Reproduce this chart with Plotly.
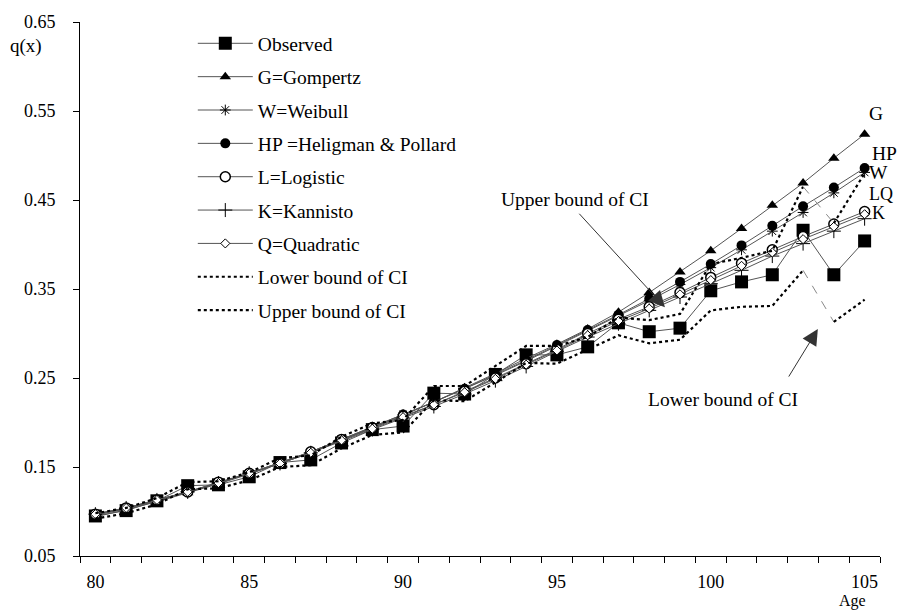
import plotly.graph_objects as go

ages = list(range(80, 106))

observed = [0.095, 0.101, 0.112, 0.129, 0.130, 0.139, 0.155, 0.158, 0.177, 0.192, 0.196, 0.233, 0.232,
            0.254, 0.276, 0.276, 0.285, 0.312, 0.302, 0.306, 0.348, 0.358, 0.366, 0.416, 0.366, 0.404]
gompertz = [0.094, 0.102, 0.111, 0.121, 0.131, 0.142, 0.154, 0.166, 0.180, 0.194, 0.208, 0.223, 0.239,
            0.255, 0.272, 0.288, 0.305, 0.324, 0.346, 0.369, 0.393, 0.418, 0.444, 0.469, 0.497, 0.524]
weibull = [0.096, 0.103, 0.112, 0.122, 0.132, 0.143, 0.155, 0.167, 0.181, 0.195, 0.209, 0.223, 0.238,
           0.253, 0.269, 0.286, 0.303, 0.320, 0.337, 0.355, 0.374, 0.394, 0.415, 0.436, 0.458, 0.481]
heligman = [0.096, 0.103, 0.112, 0.122, 0.132, 0.143, 0.155, 0.167, 0.181, 0.195, 0.209, 0.223, 0.238,
            0.254, 0.270, 0.287, 0.304, 0.321, 0.339, 0.358, 0.378, 0.399, 0.421, 0.443, 0.464, 0.486]
logistic = [0.097, 0.104, 0.113, 0.122, 0.133, 0.143, 0.154, 0.167, 0.181, 0.194, 0.207, 0.220, 0.235,
            0.250, 0.266, 0.282, 0.300, 0.316, 0.330, 0.346, 0.363, 0.379, 0.394, 0.409, 0.423, 0.437]
kannisto = [0.097, 0.104, 0.113, 0.122, 0.132, 0.143, 0.154, 0.166, 0.179, 0.192, 0.205, 0.218, 0.232,
            0.247, 0.263, 0.280, 0.296, 0.311, 0.326, 0.341, 0.356, 0.371, 0.387, 0.401, 0.415, 0.429]
quadratic = [0.097, 0.104, 0.113, 0.122, 0.132, 0.143, 0.154, 0.166, 0.180, 0.193, 0.206, 0.220, 0.234,
             0.249, 0.265, 0.281, 0.298, 0.314, 0.328, 0.344, 0.360, 0.376, 0.391, 0.406, 0.420, 0.434]
lower_ci = [0.092, 0.098, 0.108, 0.125, 0.126, 0.135, 0.150, 0.152, 0.171, 0.186, 0.189, 0.225, 0.224,
            0.245, 0.267, 0.266, 0.282, 0.298, 0.289, 0.293, 0.326, 0.330, 0.331, 0.371, 0.313, 0.338]
upper_ci = [0.098, 0.104, 0.115, 0.133, 0.134, 0.144, 0.160, 0.163, 0.184, 0.199, 0.203, 0.241, 0.241,
            0.263, 0.286, 0.286, 0.296, 0.318, 0.315, 0.322, 0.378, 0.385, 0.393, 0.465, 0.424, 0.480]

y_ticks = [0.05, 0.15, 0.25, 0.35, 0.45, 0.55, 0.65]
x_ticks = [80, 85, 90, 95, 100, 105]

LINE = "#555555"
FONT = "Liberation Serif"

series = [
    ("Observed", observed, dict(symbol="square", size=13, color="black")),
    ("G=Gompertz", gompertz, dict(symbol="triangle-up", size=10, color="black")),
    ("W=Weibull", weibull, dict(symbol="asterisk-open", size=9, color="black", line=dict(color="black", width=1))),
    ("HP =Heligman & Pollard", heligman, dict(symbol="circle", size=10, color="black")),
    ("L=Logistic", logistic, dict(symbol="circle", size=10, color="white", line=dict(color="black", width=1.5))),
    ("K=Kannisto", kannisto, dict(symbol="cross-thin-open", size=10, color="black", line=dict(color="black", width=1))),
    ("Q=Quadratic", quadratic, dict(symbol="diamond", size=7, color="white", line=dict(color="black", width=1))),
]

fig = go.Figure()
for i, (name, vals, mk) in enumerate(series):
    fig.add_trace(go.Scatter(x=ages, y=vals, name=name, mode="lines+markers",
                             line=dict(color=LINE, width=1), marker=mk,
                             legendgroup=f"g{i}"))

# CI lines: dotted, with the 103-104 stretch drawn as a faint thin dash as in the original
k103 = ages.index(103)
k104 = ages.index(104)
for j, (name, vals) in enumerate([("Lower bound of CI", lower_ci), ("Upper bound of CI", upper_ci)]):
    grp = f"c{j}"
    dotted = dict(color="black", width=2.2, dash="dot")
    fig.add_trace(go.Scatter(x=ages[:k103 + 1], y=vals[:k103 + 1], name=name, mode="lines",
                             line=dotted, legendgroup=grp))
    fig.add_trace(go.Scatter(x=ages[k103:k104 + 1], y=vals[k103:k104 + 1], name=name, mode="lines",
                             line=dict(color="#888888", width=1, dash="dash"),
                             legendgroup=grp, showlegend=False))
    fig.add_trace(go.Scatter(x=ages[k104:], y=vals[k104:], name=name, mode="lines",
                             line=dotted, legendgroup=grp, showlegend=False))

annotations = [
    dict(x=0.984, y=0.547, xref="paper", yref="y", text="G", showarrow=False, xanchor="left"),
    dict(x=0.987, y=0.502, xref="paper", yref="y", text="HP", showarrow=False, xanchor="left"),
    dict(x=0.984, y=0.481, xref="paper", yref="y", text="W", showarrow=False, xanchor="left"),
    dict(x=0.984, y=0.457, xref="paper", yref="y", text="LQ", showarrow=False, xanchor="left",
         font=dict(size=18)),
    dict(x=0.987, y=0.435, xref="paper", yref="y", text="K", showarrow=False, xanchor="left",
         font=dict(size=18)),
    dict(x=95.6, y=0.4509, xref="x", yref="y", text="Upper bound of CI", showarrow=False),
    dict(x=100.4, y=0.226, xref="x", yref="y", text="Lower bound of CI", showarrow=False),
    dict(x=98.51, y=0.3295, xref="x", yref="y", text="", showarrow=True, ax=-87, ay=-95,
         arrowhead=2, arrowsize=3.2, arrowwidth=1, arrowcolor="#333333"),
    dict(x=103.48, y=0.305, xref="x", yref="y", text="", showarrow=True, ax=-30, ay=49,
         arrowhead=2, arrowsize=3.2, arrowwidth=1, arrowcolor="#333333"),
    dict(x=-0.09, y=0.955, xref="paper", yref="paper", text="q(x)", showarrow=False,
         xanchor="left", yanchor="middle", font=dict(size=19)),
    dict(x=0.985, y=-0.084, xref="paper", yref="paper", text="Age", showarrow=False,
         yanchor="middle", font=dict(size=16)),
]

fig.update_layout(
    width=902, height=613, autosize=False,
    margin=dict(l=80, r=22, t=17, b=57),
    paper_bgcolor="white", plot_bgcolor="white",
    font=dict(family=FONT, size=18, color="black"),
    showlegend=True,
    legend=dict(x=0.141, y=0.996, xanchor="left", yanchor="top", bgcolor="rgba(0,0,0,0)",
                font=dict(family=FONT, size=19.5), traceorder="grouped", tracegroupgap=5,
                itemwidth=55),
    annotations=[dict(a, font=a.get("font", dict(size=19.5))) for a in annotations],
    xaxis=dict(range=[79.5, 105.5], tickmode="array", tickvals=x_ticks,
               ticktext=[str(v) for v in x_ticks], ticks="outside", ticklen=6,
               tickcolor="rgba(0,0,0,0)", showline=True, linecolor="black", linewidth=1,
               showgrid=False, zeroline=False, ticklabelstandoff=3,
               minor=dict(tick0=79.5, dtick=1, ticks="outside", ticklen=6, tickcolor="black",
                          showgrid=False)),
    yaxis=dict(range=[0.05, 0.65], tickmode="array", tickvals=y_ticks,
               ticktext=[f"{v:.2f}" for v in y_ticks], ticks="outside", ticklen=6,
               tickcolor="black", showline=True, linecolor="black", linewidth=1,
               showgrid=False, zeroline=False, ticklabelstandoff=14),
)

fig.write_html("out.html")
